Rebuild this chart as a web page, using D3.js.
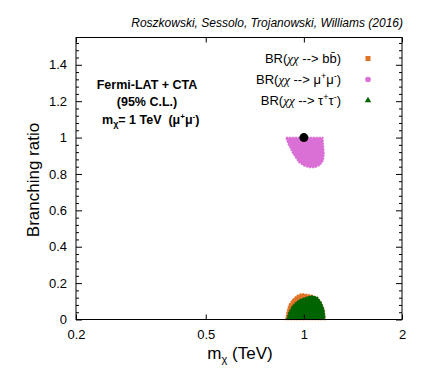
<!DOCTYPE html>
<html><head><meta charset="utf-8">
<script src="https://cdn.jsdelivr.net/npm/d3@7"></script>
<style>body{margin:0;background:#fff}svg{display:block}text{font-family:"Liberation Sans",Arial,sans-serif;white-space:pre}</style>
</head><body><svg id="c" width="423" height="373"></svg>
<script>
// ---- data ----
const xTicks = [0.2, 0.5, 1, 2];
const yTicks = [0, 0.2, 0.4, 0.6, 0.8, 1, 1.2, 1.4];
const yMinorStep = 0.04;
const xDomain = [0.2, 2];
const yDomain = [0, 1.55];
// region outlines [m_chi (TeV), BR]
const muRegion = [[0.881,1.0],[1.143,1.0],[1.153,0.912],[1.147,0.874],[1.12,0.848],[1.08,0.835],[1.04,0.836],[1.0,0.845],[0.965,0.865],[0.926,0.912],[0.894,0.967]];
const bbRegion = [[0.88,0.0],[0.888,0.04],[0.90,0.08],[0.925,0.11],[0.955,0.132],[0.985,0.142],[1.02,0.138],[1.06,0.132],[1.10,0.12],[1.13,0.09],[1.155,0.05],[1.16,0.0]];
const tauRegion = [[0.886,0.0],[0.90,0.04],[0.92,0.072],[0.95,0.097],[0.98,0.112],[1.02,0.123],[1.06,0.13],[1.1,0.122],[1.13,0.095],[1.152,0.055],[1.16,0.015],[1.16,0.0]];
const bestFit = [[1.0, 1.0]];
const legendLabels = ["bb", "mu", "tau"];
const colors = {bb:"#e07325", mu:"#da70d6", tau:"#006400"};

const svg = d3.select("#c");
const L=76, R=402, T=37.5, B=319.5;
const x = d3.scaleLog().domain(xDomain).range([L,R]);
const y = d3.scaleLinear().domain(yDomain).range([B,T]);

// regions
const line = d3.line().x(d=>x(d[0])).y(d=>y(d[1])).curve(d3.curveLinearClosed);
svg.append("path").attr("d",line(muRegion)).attr("fill",colors.mu).attr("stroke",colors.mu).attr("stroke-width",1.5).attr("stroke-dasharray","2,1");
svg.append("path").attr("d",line(bbRegion)).attr("fill",colors.bb).attr("stroke",colors.bb).attr("stroke-width",1.5).attr("stroke-dasharray","2,1");
svg.append("path").attr("d",line(tauRegion)).attr("fill",colors.tau).attr("stroke",colors.tau).attr("stroke-width",1.2).attr("stroke-dasharray","2,1");
svg.selectAll("circle.bf").data(bestFit).enter().append("circle").attr("class","bf")
  .attr("cx",d=>x(d[0])).attr("cy",d=>y(d[1])).attr("r",4.5).attr("fill","#000");

// frame
svg.append("rect").attr("x",L).attr("y",T).attr("width",R-L).attr("height",B-T).attr("fill","none").attr("stroke","#000").attr("stroke-width",1);

// axes via d3
const fmt = d=>String(d);
const gB = svg.append("g").attr("transform",`translate(0,${B})`).call(d3.axisBottom(x).tickValues(xTicks).tickFormat(fmt).tickSizeInner(-5).tickSizeOuter(0).tickPadding(10));
const gT = svg.append("g").attr("transform",`translate(0,${T})`).call(d3.axisTop(x).tickValues(xTicks).tickFormat("").tickSizeInner(-5).tickSizeOuter(0));
const yMinor = d3.range(0, yDomain[1]+1e-9, yMinorStep).filter(v=>Math.abs(v/0.2-Math.round(v/0.2))>1e-6);
const gL = svg.append("g").attr("transform",`translate(${L},0)`).call(d3.axisLeft(y).tickValues(yTicks).tickFormat(fmt).tickSizeInner(-6).tickSizeOuter(0).tickPadding(9));
const gR = svg.append("g").attr("transform",`translate(${R},0)`).call(d3.axisRight(y).tickValues(yTicks).tickFormat("").tickSizeInner(-6).tickSizeOuter(0));
const gLm = svg.append("g").attr("transform",`translate(${L},0)`).call(d3.axisLeft(y).tickValues(yMinor).tickFormat("").tickSizeInner(-3).tickSizeOuter(0));
const gRm = svg.append("g").attr("transform",`translate(${R},0)`).call(d3.axisRight(y).tickValues(yMinor).tickFormat("").tickSizeInner(-3).tickSizeOuter(0));
[gB,gT,gL,gR,gLm,gRm].forEach(g=>{g.select(".domain").remove();g.selectAll("line").attr("stroke","#000");g.selectAll("text").attr("font-size",13).attr("fill","#000").style("font-family","Liberation Sans, Arial, sans-serif");});

// axis titles
const xl = svg.append("text").attr("x",240).attr("y",359).attr("text-anchor","middle").attr("font-size",17);
xl.append("tspan").text("m");
xl.append("tspan").attr("font-size",11).attr("dy",4).text("χ");
xl.append("tspan").attr("dy",-4).text(" (TeV)");
svg.append("text").attr("transform","translate(39,180) rotate(-90)").attr("text-anchor","middle").attr("font-size",17).text("Branching ratio");

// top credit
svg.append("text").attr("x",403).attr("y",27).attr("text-anchor","end").attr("font-size",12).attr("font-style","italic").text("Roszkowski, Sessolo, Trojanowski, Williams (2016)");

// annotation
const ann = svg.append("g").attr("font-weight","bold").attr("font-size",12.5);
ann.append("text").attr("x",147).attr("y",89).attr("text-anchor","middle").text("Fermi-LAT + CTA");
ann.append("text").attr("x",147).attr("y",106).attr("text-anchor","middle").text("(95% C.L.)");
const a3 = ann.append("text").attr("x",102).attr("y",124);
a3.append("tspan").text("m");
a3.append("tspan").attr("font-size",9).attr("dy",3).text("χ");
a3.append("tspan").attr("dy",-3).text("= 1 TeV  (μ");
a3.append("tspan").attr("font-size",8).attr("dy",-5).text("+");
a3.append("tspan").attr("dy",5).text("μ");
a3.append("tspan").attr("font-size",8).attr("dy",-5).text("-");
a3.append("tspan").attr("dy",5).text(")");

// legend
const lg = svg.append("g").attr("font-size",13);
const rows = [63,84,105];
legendLabels.forEach((k,i)=>{
  const t = lg.append("text").attr("x",341).attr("y",rows[i]).attr("text-anchor","end");
  t.append("tspan").text("BR(");
  t.append("tspan").style("font-family","Liberation Serif, serif").attr("font-style","italic").text("χχ");
  t.append("tspan").text(" --> ");
  if(k==="bb"){ t.append("tspan").text("bb\u0304)"); }
  else { const s = k==="mu"?"μ":"τ";
    t.append("tspan").text(s);
    t.append("tspan").attr("font-size",9).attr("dy",-5).text("+");
    t.append("tspan").attr("dy",5).text(s);
    t.append("tspan").attr("font-size",9).attr("dy",-5).text("-");
    t.append("tspan").attr("dy",5).text(")");
  }
  const cy = rows[i]-4.5, cx = 368;
  if(k==="bb") lg.append("rect").attr("x",cx-2.5).attr("y",cy-2.5).attr("width",5).attr("height",5).attr("fill",colors.bb);
  if(k==="mu") lg.append("circle").attr("cx",cx).attr("cy",cy).attr("r",2.8).attr("fill",colors.mu);
  if(k==="tau") lg.append("path").attr("d",d3.symbol(d3.symbolTriangle,18)()).attr("transform",`translate(${cx},${cy})`).attr("fill",colors.tau);
});
</script></body></html>
